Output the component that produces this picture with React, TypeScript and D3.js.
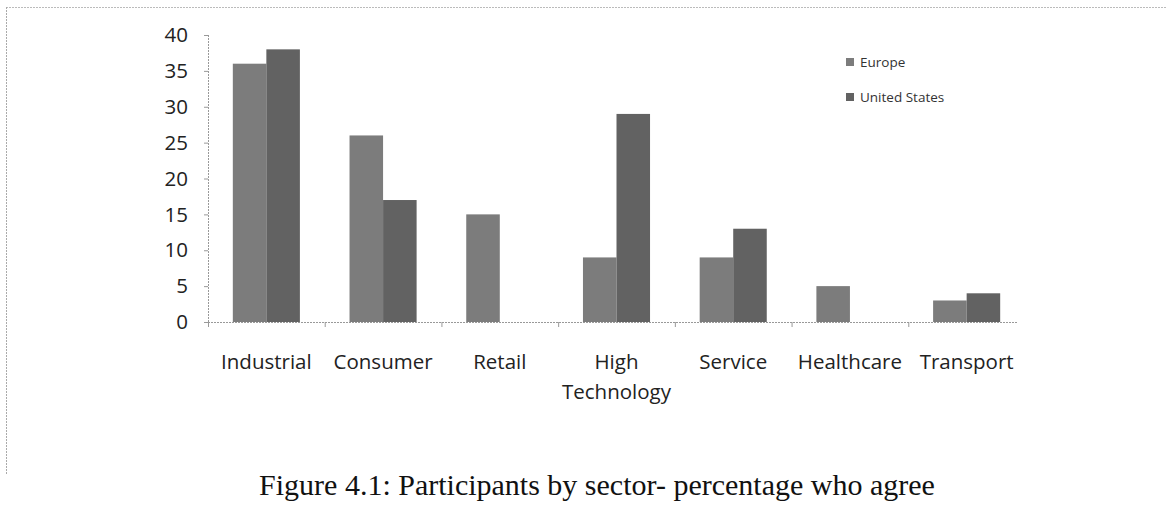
import React from "react";
import * as d3 from "d3";

const categories = ["Industrial", "Consumer", "Retail", "High Technology", "Service", "Healthcare", "Transport"];
const seriesNames = ["Europe", "United States"];
const europe = [36, 26, 15, 9, 9, 5, 3];
const unitedStates = [38, 17, 0, 29, 13, 0, 4];
const yTicks = [0, 5, 10, 15, 20, 25, 30, 35, 40];
const title = "Figure 4.1: Participants by sector- percentage who agree";

const colors = ["#7c7c7c", "#626262"];

export default function App() {
  const W = 1166, H = 513;
  const x0 = 208, x1 = 1025, yTop = 35, yBot = 322;
  const x = d3.scaleBand<string>().domain(categories).range([x0, x1]).paddingInner(0).paddingOuter(0);
  const y = d3.scaleLinear().domain([0, 40]).range([yBot, yTop]);
  const xs = d3.scaleBand<string>().domain(seriesNames).range([0, x.bandwidth()]).paddingInner(0).paddingOuter(0.74);
  const series = [europe, unitedStates];
  const labelFont = "'Open Sans', 'Liberation Sans', sans-serif";

  return (
    <svg width={W} height={H} style={{ position: "absolute", left: 0, top: 0, background: "#fff" }}>
      <rect x={0} y={0} width={W} height={H} fill="#fff" />
      {/* frame */}
      <line x1={6} y1={7.5} x2={W} y2={7.5} stroke="#bbb" strokeWidth={1} strokeDasharray="2,1" />
      <line x1={6.5} y1={7} x2={6.5} y2={475} stroke="#aaa" strokeWidth={1} strokeDasharray="2,1" />

      {/* bars */}
      {categories.map((c, i) =>
        series.map((s, j) =>
          s[i] > 0 ? (
            <rect
              key={c + j}
              x={(x(c) as number) + (xs(seriesNames[j]) as number)}
              y={y(s[i])}
              width={xs.bandwidth()}
              height={yBot - y(s[i])}
              fill={colors[j]}
            />
          ) : null
        )
      )}

      {/* y axis */}
      <line x1={x0 + 0.5} y1={yTop} x2={x0 + 0.5} y2={yBot} stroke="#999" strokeWidth={1} strokeDasharray="2,1" />
      {yTicks.map((t) => (
        <g key={t}>
          <line x1={x0 - 4} x2={x0} y1={y(t) + 0.5} y2={y(t) + 0.5} stroke="#999" />
          <text x={188} y={y(t)} dy="0.35em" textAnchor="end" fontFamily={labelFont} fontSize={20.5} fill="#222">
            {t}
          </text>
        </g>
      ))}

      {/* x axis */}
      <line x1={x0} y1={yBot + 0.5} x2={1018} y2={yBot + 0.5} stroke="#999" strokeWidth={1} strokeDasharray="2,1" />
      {categories.map((c) => (
        <line key={c} x1={(x(c) as number) + 0.5} x2={(x(c) as number) + 0.5} y1={yBot} y2={yBot + 5} stroke="#999" />
      ))}
      {categories.map((c) => {
        const words = c === "High Technology" ? ["High", "Technology"] : [c];
        const cx = (x(c) as number) + x.bandwidth() / 2;
        return (
          <text key={c} x={cx} y={369} textAnchor="middle" fontFamily={labelFont} fontSize={20.5} fill="#222">
            {words.map((w, k) => (
              <tspan key={w} x={cx} dy={k === 0 ? 0 : 30}>
                {w}
              </tspan>
            ))}
          </text>
        );
      })}

      {/* legend */}
      {seriesNames.map((n, j) => (
        <g key={n}>
          <rect x={846} y={58 + j * 35} width={8} height={8} fill={colors[j]} />
          <text x={860} y={62 + j * 35} dy="0.35em" fontFamily={labelFont} fontSize={13.5} fill="#333">
            {n}
          </text>
        </g>
      ))}

      {/* title */}
      <text x={597} y={495} textAnchor="middle" fontFamily="'Liberation Serif', serif" fontSize={30} fill="#111">
        {title}
      </text>
    </svg>
  );
}
